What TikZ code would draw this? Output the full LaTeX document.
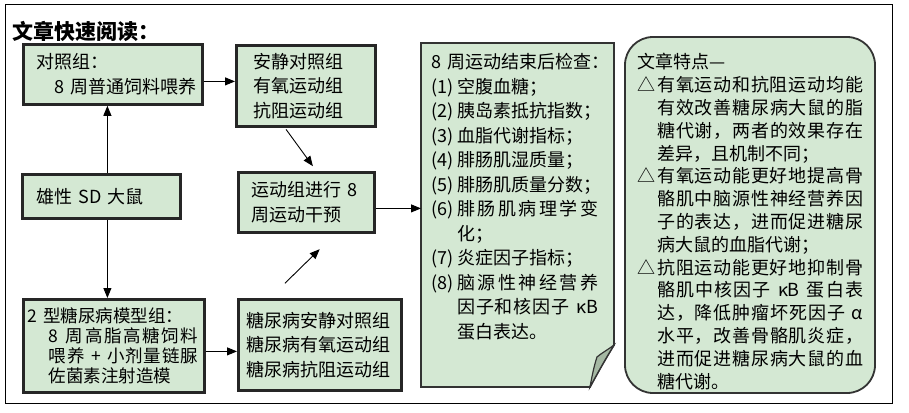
\documentclass[tikz,border=0pt]{standalone}
\usepackage{fontspec}
\setmainfont{Noto Sans CJK SC}
\usetikzlibrary{arrows.meta,backgrounds}
\definecolor{boxgreen}{RGB}{212,232,211}
\definecolor{curlgreen}{RGB}{165,184,163}
\newcommand\lbl[2][26pt]{\makebox[#1][l]{#2}}
\makeatletter
% spread the characters of a line over a given width
\newcommand\spread[2]{\hbox to #1{\def\spread@sep{}\@tfor\spread@tok:=#2\do{\spread@sep\spread@tok\def\spread@sep{\hfill}}}}
\makeatother

\begin{document}
\begin{tikzpicture}[x=1pt,y=-1pt,>={Triangle[length=10pt,width=8pt]},font=\fontsize{18}{24.5}\selectfont]
\tikzstyle{box}=[draw=black!85,line width=2.8pt,fill=boxgreen,align=left,inner ysep=0pt,anchor=north west]
\tikzstyle{textblock}=[anchor=north west,inner xsep=10pt,inner ysep=0pt,align=left]
\tikzstyle{link}=[->,line width=0.9pt]
\useasboundingbox (0,0) rectangle (909,412);
\draw[line width=1pt] (5,5) rectangle (892,403);
\node[anchor=west,inner sep=0pt,font=\bfseries\fontsize{21}{21}\selectfont] (title) at (12,31) {文章快速阅读：};

% left column
\node[box,minimum width=179pt,minimum height=60pt,text width=170pt,inner xsep=4.5pt] (ctrl) at (22,43) {\hspace*{8.5pt}对照组：\\\hspace*{26.5pt}8 周普通饲料喂养};
\node[box,minimum width=158pt,minimum height=44pt,text width=130pt,inner xsep=14pt] (rat) at (21,173) {雄性 SD 大鼠};
\node[box,minimum width=181pt,minimum height=93pt,text width=172pt,inner xsep=4.5pt,font=\fontsize{17.5}{19.8}\selectfont] (model) at (22,298) {2 型糖尿病模型组：\\\lbl[21pt]{}\spread{149pt}{{8 }周高脂高糖饲料}\\\lbl[21pt]{}\spread{149pt}{喂养{ + }小剂量链脲}\\\lbl[21pt]{}佐菌素注射造模};

% middle column
\node[box,minimum width=139pt,minimum height=81pt,text width=105pt,inner xsep=17pt] (groups) at (235,44) {安静对照组\\有氧运动组\\抗阻运动组};
\node[box,minimum width=136pt,minimum height=60pt,text width=110pt,inner xsep=13pt] (train) at (237,171) {运动组进行 8\\周运动干预};
\node[box,minimum width=163pt,minimum height=91pt,text width=147pt,inner xsep=8pt] (dgroups) at (237,298) {糖尿病安静对照组\\糖尿病有氧运动组\\糖尿病抗阻运动组};

% tests and features
\node[textblock,text width=180pt] (check) at (421,53.5) {8 周运动结束后检查：\\
\lbl{(1)}空腹血糖；\\
\lbl{(2)}胰岛素抵抗指数；\\
\lbl{(3)}血脂代谢指标；\\
\lbl{(4)}腓肠肌湿质量；\\
\lbl{(5)}腓肠肌质量分数；\\
\lbl{(6)}\spread{141pt}{腓肠肌病理学变}\\
\lbl{}化；\\
\lbl{(7)}炎症因子指标；\\
\lbl{(8)}\spread{141pt}{脑源性神经营养}\\
\lbl{}\spread{141pt}{因子和核因子{ κB}}\\
\lbl{}蛋白表达。};
\node[textblock,text width=232pt,font=\fontsize{18}{22.8}\selectfont] (feat) at (627,53.4) {文章特点—\\
\lbl[20pt]{△}\spread{206pt}{有氧运动和抗阻运动均能}\\
\lbl[20pt]{}\spread{206pt}{有效改善糖尿病大鼠的脂}\\
\lbl[20pt]{}\spread{206pt}{糖代谢，两者的效果存在}\\
\lbl[20pt]{}差异，且机制不同；\\
\lbl[20pt]{△}\spread{206pt}{有氧运动能更好地提高骨}\\
\lbl[20pt]{}\spread{206pt}{骼肌中脑源性神经营养因}\\
\lbl[20pt]{}\spread{206pt}{子的表达，进而促进糖尿}\\
\lbl[20pt]{}病大鼠的血脂代谢；\\
\lbl[20pt]{△}\spread{206pt}{抗阻运动能更好地抑制骨}\\
\lbl[20pt]{}\spread{206pt}{骼肌中核因子{ κB }蛋白表}\\
\lbl[20pt]{}\spread{206pt}{达，降低肿瘤坏死因子{ α}}\\
\lbl[20pt]{}\spread{206pt}{水平，改善骨骼肌炎症，}\\
\lbl[20pt]{}\spread{206pt}{进而促进糖尿病大鼠的血}\\
\lbl[20pt]{}糖代谢。};

\begin{scope}[on background layer]
\draw[draw=black!80,line width=1.8pt,fill=boxgreen] (421,43) -- (614,43) -- (614,345) .. controls (606,358) and (598,372) .. (590,387) -- (421,387) -- cycle;
\draw[draw=black!80,line width=1.2pt,fill=curlgreen] (614,345) .. controls (606,358) and (598,372) .. (590,387) .. controls (592,376) and (594,366) .. (597,357) .. controls (603,352) and (609,349) .. (614,345) -- cycle;
\draw[draw=black!80,line width=1.8pt,fill=boxgreen,rounded corners=28pt] (625,37) rectangle (875,393);
\end{scope}

% arrows
\draw[link] ([yshift=-7pt]ctrl.east) -- ([yshift=-7pt]ctrl.east -| groups.west);
\draw[link] ([xshift=6pt]rat.north) -- ([xshift=6pt]rat.north |- ctrl.south);
\draw[link] ([xshift=6pt]rat.south) -- ([xshift=6pt]rat.south |- model.north);
\draw[link] ([yshift=-5.5pt]model.east) -- ([yshift=-5.5pt]model.east -| dgroups.west);
\draw[link,shorten <=2pt,shorten >=6pt] ([xshift=-21pt]groups.south) -- ([xshift=10pt]train.north);
\draw[link,shorten <=21pt,shorten >=22pt] ([xshift=-50pt]dgroups.north) -- ([xshift=29pt]train.south);
\draw[link] ([yshift=-6pt]train.east) -- ([yshift=-6pt]train.east -| check.west);
\end{tikzpicture}
\end{document}
